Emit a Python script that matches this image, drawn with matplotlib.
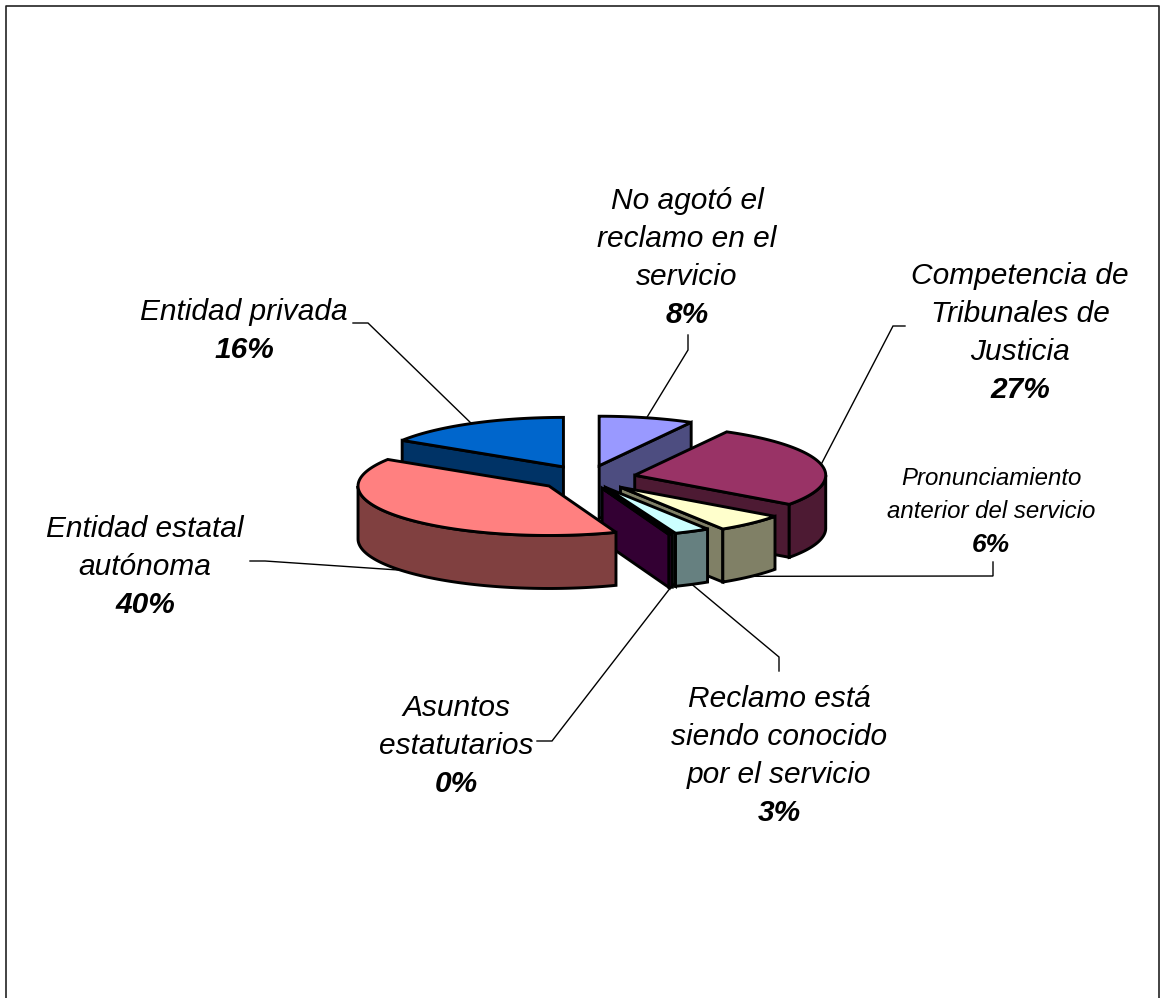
import numpy as np
import matplotlib
matplotlib.use("Agg")
import matplotlib.pyplot as plt
from matplotlib.patches import Polygon

plt.rcParams["font.family"] = ["Liberation Sans", "DejaVu Sans"]

# Share of each reason, clockwise from twelve o'clock
categories = [
    "No agotó el\nreclamo en el\nservicio",
    "Competencia de\nTribunales de\nJusticia",
    "Pronunciamiento\nanterior del servicio",
    "Reclamo está\nsiendo conocido\npor el servicio",
    "Asuntos\nestatutarios",
    "Entidad estatal\nautónoma",
    "Entidad privada",
]
values = [8.0, 27.0, 6.0, 3.0, 0.3, 39.7, 16.0]
top_colors = ["#9999FF", "#993366", "#FFFFCC", "#CCFFFF", "#660066", "#FF8080", "#0066CC"]
side_colors = ["#4D4D80", "#4D1A33", "#808066", "#668080", "#330033", "#804040", "#003366"]

# Label centres and font sizes, then the elbow of each leader line
label_xy = [(687, 258), (1020, 333), (991, 512), (779, 756), (456, 746), (145, 567), (244, 331)]
label_size = [21.5, 21.5, 17.3, 21.5, 21.5, 21.5, 21.5]
percent_size = [21.5, 21.5, 19, 21.5, 21.5, 21.5, 21.5]
elbows = [[(688, 335), (688, 350)], [(905, 326), (893, 326)], [(993, 562), (993, 576)],
          [(779, 671), (779, 657)], [(537, 741), (552, 741)], [(250, 561), (265, 561)],
          [(353, 323), (368, 323)]]

# Projection of the flattened pie on the page
CX, CY = 587.0, 478.0
RX, RY = 191.0, 49.5
DEPTH = 53.0
EXPLODE = [0.256, 0.256, 0.256, 0.21, 0.22, 0.256, 0.256]
OUTLINE = 2.1

fig = plt.figure(figsize=(11.64, 9.98), dpi=100)
ax = fig.add_axes([0, 0, 1, 1])
ax.set_xlim(0, 1164)
ax.set_ylim(998, 0)
ax.axis("off")


def project(angle, apex):
    return apex[0] + RX * np.sin(angle), apex[1] - RY * np.cos(angle)


def add_face(points, color, zorder):
    ax.add_patch(Polygon(points, closed=True, facecolor=color, edgecolor="black",
                         linewidth=OUTLINE, joinstyle="miter", zorder=zorder))


total = sum(values)
edges = np.cumsum([0.0] + values) / total * 2 * np.pi

# Back slices first, nearer slices painted over them
draw_order = [6, 0, 1, 2, 3, 4, 5]
for layer, i in enumerate(draw_order):
    a1, a2 = edges[i], edges[i + 1]
    mid = (a1 + a2) / 2
    apex = (CX + EXPLODE[i] * RX * np.sin(mid), CY - EXPLODE[i] * RY * np.cos(mid))
    z = 2 + layer

    # Cut faces that turn towards the viewer
    for a, visible in ((a1, np.sin(a1) < 0), (a2, np.sin(a2) > 0)):
        if visible:
            ex, ey = project(a, apex)
            add_face([apex, (ex, ey), (ex, ey + DEPTH), (apex[0], apex[1] + DEPTH)],
                     side_colors[i], z)

    # Front part of the rim
    lo, hi = max(a1, np.pi / 2), min(a2, 3 * np.pi / 2)
    if hi > lo:
        t = np.linspace(lo, hi, 80)
        xs, ys = project(t, apex)
        rim = np.r_[np.c_[xs, ys], np.c_[xs, ys + DEPTH][::-1]]
        add_face(rim, side_colors[i], z)

    # Top surface
    t = np.linspace(a1, a2, 120)
    xs, ys = project(t, apex)
    add_face(np.r_[[apex], np.c_[xs, ys]], top_colors[i], z)

    # Leader line from the label to the outside of the slice
    ax_, ay_ = project(mid, apex)
    if np.cos(mid) < 0:
        ay_ += DEPTH
    path = elbows[i] + [(ax_, ay_)]
    ax.plot(*zip(*path), color="black", lw=1.0, zorder=1, solid_joinstyle="miter")

# Labels: italic category name over the bold italic percentage
for name, value, (lx, ly), size, psize in zip(categories, values, label_xy, label_size, percent_size):
    lines = name.split("\n")
    step = 38 if size > 18 else 33.5
    n = len(lines) + 1
    for k, line in enumerate(lines):
        ax.text(lx, ly + (k - (n - 1) / 2) * step, line, ha="center", va="center",
                fontsize=size, style="italic", zorder=20)
    ax.text(lx, ly + (n - 1) / 2 * step, f"{value:.0f}%", ha="center", va="center",
            fontsize=psize, style="italic", fontweight="bold", zorder=20)

# Chart frame, open at the bottom edge of the page
ax.plot([5.5, 5.5, 1159, 1159], [998, 5.5, 5.5, 998], color="#222222", lw=1.2, zorder=30)

fig.savefig("out.png", dpi=100)
